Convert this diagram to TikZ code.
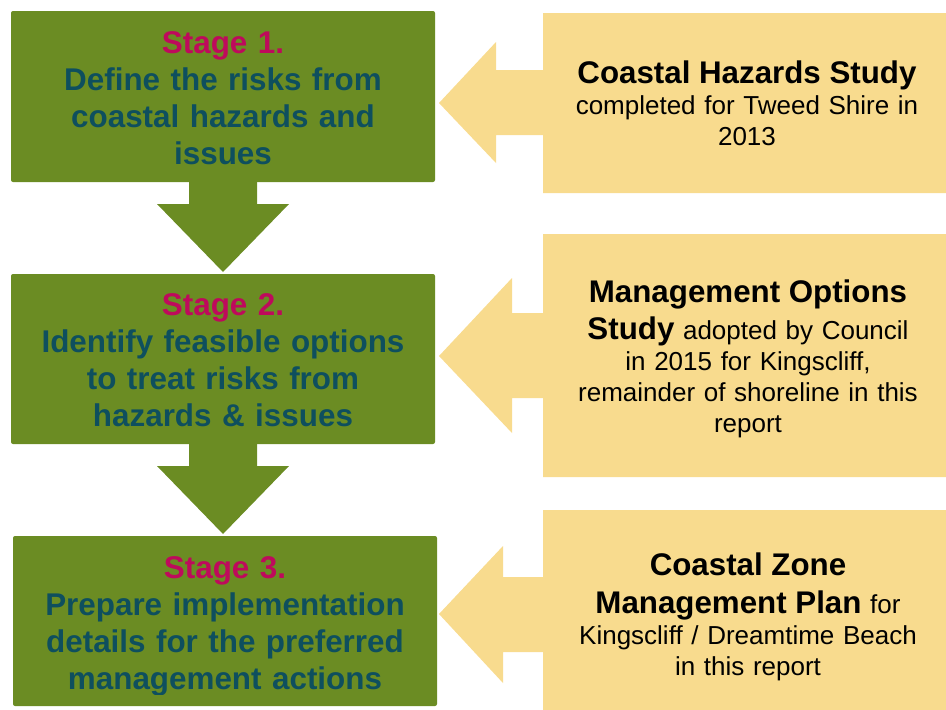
\documentclass[tikz,border=0pt]{standalone}
\usepackage{fontspec}
\setmainfont{Liberation Sans}
\definecolor{stagegreen}{HTML}{6B8C23}
\definecolor{stagepink}{HTML}{BE0A5C}
\definecolor{stageteal}{HTML}{0E4F5E}
\definecolor{inputyellow}{HTML}{F8DB8E}
\tikzset{
  greenbox/.style={fill=stagegreen, rounded corners=2pt},
  yellowshape/.style={fill=inputyellow},
  greenarrow/.style={fill=stagegreen},
  stagetext/.style={anchor=base, text width=424pt, align=center, inner sep=0pt,
    font=\bfseries\fontsize{31.4}{37.3}\selectfont, text=stageteal},
  inputtext/.style={anchor=base, text width=400pt, align=center, inner sep=0pt,
    font=\fontsize{26.0}{31}\selectfont, text=black},
}
\newcommand{\stg}[1]{\textcolor{stagepink}{#1}}
\newcommand{\bt}[1]{{\bfseries\fontsize{31.3}{31}\selectfont #1}}
\begin{document}
\begin{tikzpicture}[x=1pt, y=-1pt]
\useasboundingbox (0,0) rectangle (946,710);

% right-hand input arrows
\fill[yellowshape] (946,13) -- (543,13) -- (543,70) -- (496,70) -- (496,42) -- (439,103)
  -- (496,163) -- (496,135) -- (543,135) -- (543,193) -- (946,193) -- cycle;
\fill[yellowshape] (946,234) -- (543,234) -- (543,313) -- (512,313) -- (512,278) -- (439,356)
  -- (512,433) -- (512,398) -- (543,398) -- (543,477) -- (946,477) -- cycle;
\fill[yellowshape] (946,510) -- (543,510) -- (543,577) -- (503,577) -- (503,546) -- (439,614)
  -- (503,683) -- (503,652) -- (543,652) -- (543,710) -- (946,710) -- cycle;

% stage boxes
\fill[greenbox] (11,11) rectangle (435,182);
\fill[greenbox] (11,274) rectangle (435,444);
\fill[greenbox] (13,536) rectangle (437,706);

% down arrows
\fill[greenarrow] (189,180) -- (257,180) -- (257,204) -- (289,204) -- (223,272) -- (157,204) -- (189,204) -- cycle;
\fill[greenarrow] (189,442) -- (257,442) -- (257,466) -- (289,466) -- (223,534) -- (157,466) -- (189,466) -- cycle;

% stage texts
\node[stagetext] (s1) at (223,53) {\stg{Stage 1.}\\ Define the risks from\\ coastal hazards and\\ issues};
\node[stagetext] (s2) at (223,315) {\stg{Stage 2.}\\ Identify feasible options\\ to treat risks from\\ hazards \& issues};
\begin{scope}
\clip (13,536) rectangle (437,694);
\node[stagetext] (s3) at (225,578) {\stg{Stage 3.}\\ Prepare implementation\\ details for the preferred\\ management actions};
\end{scope}

% input texts
\node[inputtext] (i1) at (747,83) {\bt{Coastal Hazards Study}\\ completed for Tweed Shire in\\ 2013};
\node[inputtext] (i2) at (748,302) {\bt{Management Options}\\[6pt] \bt{Study} adopted by Council\\ in 2015 for Kingscliff,\\ remainder of shoreline in this\\ report};
\node[inputtext] (i3) at (748,575) {\bt{Coastal Zone}\\[7pt] \bt{Management Plan} for\\ Kingscliff / Dreamtime Beach\\ in this report};
\end{tikzpicture}
\end{document}
